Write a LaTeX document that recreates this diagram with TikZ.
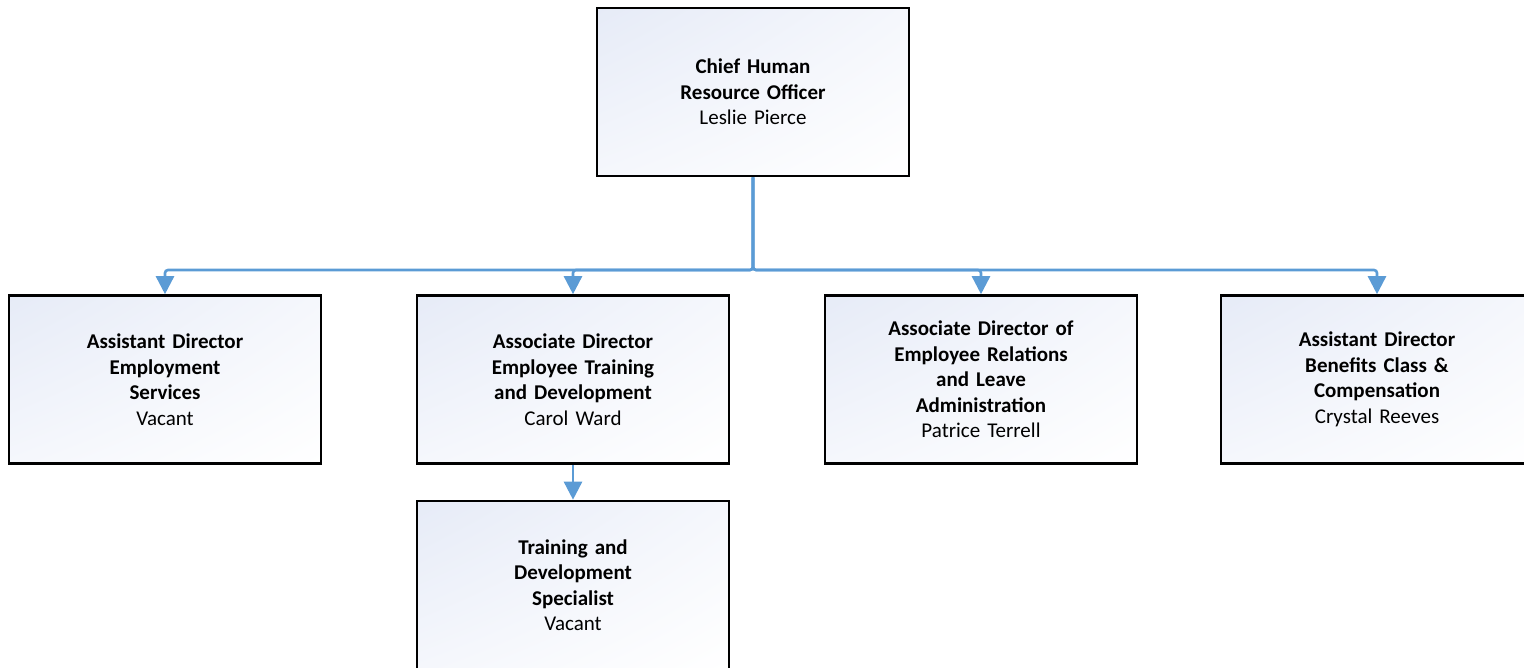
\documentclass[tikz,border=0pt]{standalone}
\usepackage{fontspec}
\setmainfont{Carlito}
\usetikzlibrary{arrows.meta,shadings}
\definecolor{conncol}{RGB}{91,155,213}
\definecolor{shadeA}{RGB}{230,235,247}
\definecolor{shadeB}{RGB}{245,247,252}
\tikzset{
  orgbox/.style={draw=black, line width=2.6pt, minimum width=312pt, minimum height=168pt,
    inner sep=0pt, align=center, text width=250pt,
    upper left=shadeA, upper right=shadeB, lower left=shadeB, lower right=white,
    font=\fontsize{21}{25.5}\selectfont},
  conn/.style={draw=conncol, line width=2.6pt, rounded corners=3pt,
    -{Triangle[width=18pt,length=18pt]}},
}
\begin{document}
\begin{tikzpicture}[x=1pt,y=-1pt]
\useasboundingbox (0,0) rectangle (1524,667);
\clip (0,0) rectangle (1524,667);
\node[orgbox] (ceo) at (753,92) {\textbf{Chief Human}\\\textbf{Resource Officer}\\Leslie Pierce};
\node[orgbox] (b1) at (165,379.5) {\textbf{Assistant Director}\\\textbf{Employment}\\\textbf{Services}\\Vacant};
\node[orgbox] (b2) at (573,379.5) {\textbf{Associate Director}\\\textbf{Employee Training}\\\textbf{and Development}\\Carol Ward};
\node[orgbox] (b3) at (981,379.5) {\textbf{Associate Director of}\\\textbf{Employee Relations}\\\textbf{and Leave}\\\textbf{Administration}\\Patrice Terrell};
\node[orgbox] (b4) at (1377,379.5) {\textbf{Assistant Director}\\\textbf{Benefits Class \&}\\\textbf{Compensation}\\Crystal Reeves};
\node[orgbox] (b5) at (573,585) {\textbf{Training and}\\\textbf{Development}\\\textbf{Specialist}\\Vacant};
\coordinate (j) at (753,270);
\draw[conn] (ceo.south) -- (j) -| (b1.north);
\draw[conn] (ceo.south) -- (j) -| (b2.north);
\draw[conn] (ceo.south) -- (j) -| (b3.north);
\draw[conn] (ceo.south) -- (j) -| (b4.north);
\draw[conn] (b2.south) -- (b5.north);
\end{tikzpicture}
\end{document}
